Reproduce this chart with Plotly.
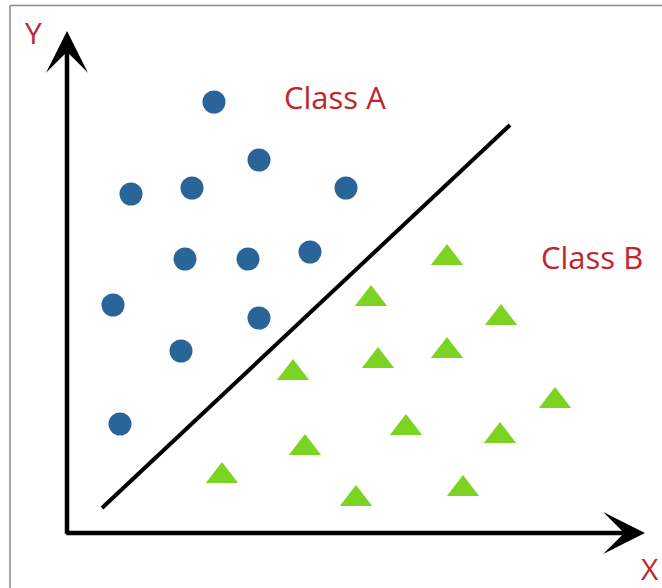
import plotly.graph_objects as go

# feature values (arbitrary units, origin at the axes corner)
class_a_x = [14.7, 19.2, 6.4, 12.5, 27.9, 11.8, 18.1, 24.3, 4.6, 19.2, 11.4, 5.3]
class_a_y = [43.1, 37.3, 33.9, 34.5, 34.5, 27.4, 27.4, 28.1, 22.8, 21.5, 18.2, 10.9]

class_b_x = [38.0, 30.4, 43.4, 31.1, 38.0, 22.6, 48.8, 33.9, 43.3, 23.8, 15.5, 28.9, 39.6]
class_b_y = [27.5, 23.4, 21.5, 17.2, 18.2, 16.0, 13.2, 10.5, 9.7, 8.5, 5.7, 3.4, 4.4]

# separating line
boundary_x = [3.5, 44.3]
boundary_y = [2.5, 40.8]

red = "#c0262d"
font = "Open Sans"

fig = go.Figure()

fig.add_trace(go.Scatter(x=boundary_x, y=boundary_y, mode="lines",
                         line=dict(color="black", width=4), showlegend=False))

fig.add_trace(go.Scatter(x=class_a_x, y=class_a_y, mode="markers", name="Class A",
                         marker=dict(symbol="circle", size=23, color="#2a6599"),
                         showlegend=False))

fig.add_trace(go.Scatter(x=class_b_x, y=class_b_y, mode="markers", name="Class B",
                         marker=dict(symbol="triangle-up", size=28, color="#7dd321"),
                         showlegend=False))

# axis arrows
fig.add_annotation(x=0, y=50.2, ax=0, ay=-0.22, xref="x", yref="y", axref="x", ayref="y",
                   text="", showarrow=True, arrowhead=3, arrowsize=1.55, arrowwidth=4.5,
                   arrowcolor="black")
fig.add_annotation(x=57.8, y=0, ax=-0.22, ay=0, xref="x", yref="y", axref="x", ayref="y",
                   text="", showarrow=True, arrowhead=3, arrowsize=1.55, arrowwidth=4.5,
                   arrowcolor="black")

# labels
labels = [("Y", -3.4, 50.1, 30), ("X", 58.3, -3.5, 30),
          ("Class A", 26.75, 43.6, 31), ("Class B", 52.45, 27.6, 31)]
for txt, lx, ly, fs in labels:
    fig.add_annotation(x=lx, y=ly, xref="x", yref="y", text=txt, showarrow=False,
                       font=dict(family=font, size=fs, color=red))

# frame of the picture (top and left edges)
fig.add_shape(type="line", x0=-5.7, x1=60, y0=52.75, y1=52.75, xref="x", yref="y",
              line=dict(color="#8a8a8a", width=1.5))
fig.add_shape(type="line", x0=-5.7, x1=-5.7, y0=52.75, y1=-6, xref="x", yref="y",
              line=dict(color="#8a8a8a", width=1.5))

fig.update_layout(
    width=662,
    height=588,
    margin=dict(l=0, r=0, t=0, b=0),
    plot_bgcolor="white",
    paper_bgcolor="white",
    xaxis=dict(range=[-6.7, 59.5], visible=False),
    yaxis=dict(range=[-5.5, 53.3], visible=False),
)

# the page body has an 8px margin by default; drop it so the figure fills the window
fig.write_html("out.html", config={"displayModeBar": False},
               post_script="document.body.style.margin='0';")
